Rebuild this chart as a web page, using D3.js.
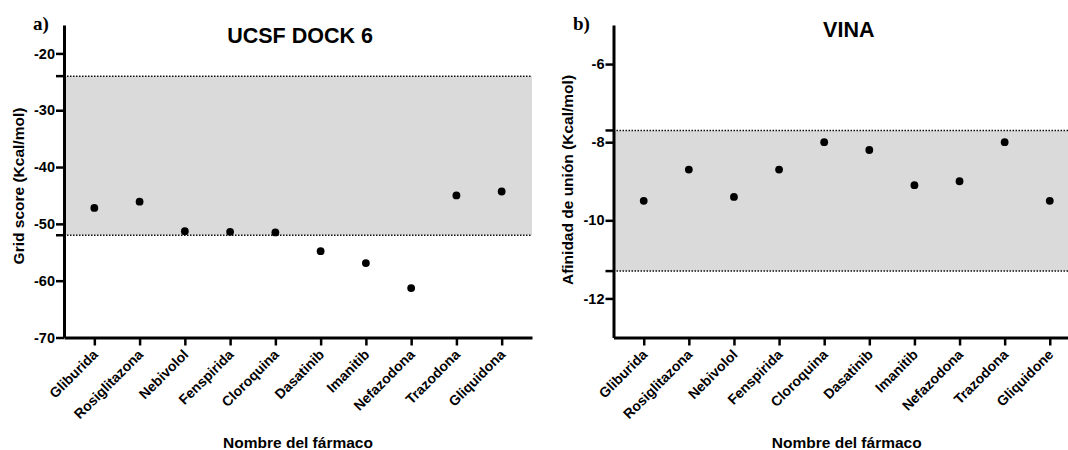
<!DOCTYPE html>
<html>
<head>
<meta charset="utf-8">
<script src="https://cdn.jsdelivr.net/npm/d3@7"></script>
<style>
	body { margin: 0; background: #fff; }
	text { font-family: "Liberation Sans", Arial, sans-serif; font-weight: bold; fill: #000; }
	.panel { font-family: "Liberation Serif", "Times New Roman", serif; }
</style>
</head>
<body>
<div class="svg-container"></div>
<script>
// data
var drugsA = ["Gliburida", "Rosiglitazona", "Nebivolol", "Fenspirida", "Cloroquina",
	"Dasatinib", "Imanitib", "Nefazodona", "Trazodona", "Gliquidona"];
var drugsB = ["Gliburida", "Rosiglitazona", "Nebivolol", "Fenspirida", "Cloroquina",
	"Dasatinib", "Imanitib", "Nefazodona", "Trazodona", "Gliquidone"];
var dockScores = [-47.2, -46.1, -51.3, -51.4, -51.5, -54.8, -56.9, -61.3, -45.0, -44.3];
var vinaScores = [-9.5, -8.7, -9.4, -8.7, -8.0, -8.2, -9.1, -9.0, -8.0, -9.5];
var dockBand = [-52, -24];
var vinaBand = [-11.3, -7.7];
var dockTicks = [-70, -60, -50, -40, -30, -20];
var vinaTicks = [-12, -10, -8, -6];

var pageWidth = 1068,
	pageHeight = 450,
	plotTop = 25,
	plotBottom = 337.5,
	radius = 3.9;

var svg = d3.select(".svg-container")
	.append("svg")
	.attr("width", pageWidth)
	.attr("height", pageHeight);

var panelA = {
	left: 64, right: 532, domain: [-70, -15],
	cats: drugsA, values: dockScores, band: dockBand, ticks: dockTicks,
	title: "UCSF DOCK 6", titleY: 42.7, letter: "a)", letterX: 33,
	yLabel: "Grid score (Kcal/mol)", yLabelX: 24, yLabelY: 186
};
var panelB = {
	left: 613.5, right: 1080, domain: [-13, -5],
	cats: drugsB, values: vinaScores, band: vinaBand, ticks: vinaTicks,
	title: "VINA", titleY: 37.3, letter: "b)", letterX: 573,
	yLabel: "Afinidad de unión (Kcal/mol)", yLabelX: 573, yLabelY: 180
};

drawPanel(panelA);
drawPanel(panelB);

function drawPanel(p) {
	var g = svg.append("g");

	var x = d3.scalePoint().domain(p.cats).range([p.left, p.right]).padding(0.67);
	var y = d3.scaleLinear().domain(p.domain).range([plotBottom, plotTop]);

	// grey band between the two dotted limits
	g.append("rect")
		.attr("x", p.left)
		.attr("y", y(p.band[1]))
		.attr("width", p.right - p.left)
		.attr("height", y(p.band[0]) - y(p.band[1]))
		.attr("fill", "#dadada");

	p.band.forEach(function(v) {
		g.append("line")
			.attr("x1", p.left).attr("x2", p.right)
			.attr("y1", y(v)).attr("y2", y(v))
			.attr("stroke", "#111")
			.attr("stroke-width", 1.5)
			.attr("stroke-dasharray", "1.5,1.5");
		// short mark on the axis
		g.append("line")
			.attr("x1", p.left - 8).attr("x2", p.left)
			.attr("y1", y(v)).attr("y2", y(v))
			.attr("stroke", "#000")
			.attr("stroke-width", 2.5);
	});

	// y axis (plain hyphen for negatives, like the original)
	var yAxis = g.append("g")
		.attr("transform", "translate(" + p.left + ",0)")
		.call(d3.axisLeft(y).tickValues(p.ticks).tickFormat(function(d) { return String(d); })
			.tickSize(8).tickSizeOuter(0).tickPadding(1));
	yAxis.select(".domain").attr("stroke-width", 3);
	yAxis.selectAll(".tick line").attr("stroke-width", 2.5);
	yAxis.selectAll("text").style("font-size", "14.5px");

	// x axis
	var xAxis = g.append("g")
		.attr("transform", "translate(0," + plotBottom + ")")
		.call(d3.axisBottom(x).tickSize(8).tickSizeOuter(0));
	xAxis.select(".domain").attr("stroke-width", 3);
	xAxis.selectAll(".tick line").attr("stroke-width", 2.5);
	xAxis.selectAll("text")
		.style("font-size", "14px")
		.attr("text-anchor", "end")
		.attr("x", 0).attr("y", 0).attr("dy", null)
		.attr("transform", "translate(4,18) rotate(-45)");

	// points
	g.selectAll(".dot")
		.data(p.values)
		.enter()
		.append("circle")
		.attr("cx", function(d, i) { return x(p.cats[i]); })
		.attr("cy", function(d) { return y(d); })
		.attr("r", radius)
		.attr("fill", "#000");

	// titles and labels
	g.append("text")
		.attr("x", (p.left + p.right) / 2 + 2)
		.attr("y", p.titleY)
		.attr("text-anchor", "middle")
		.style("font-size", "21.5px")
		.text(p.title);

	g.append("text")
		.attr("class", "panel")
		.attr("x", p.letterX)
		.attr("y", 30)
		.style("font-size", "19px")
		.text(p.letter);

	g.append("text")
		.attr("transform", "translate(" + p.yLabelX + "," + p.yLabelY + ") rotate(-90)")
		.attr("text-anchor", "middle")
		.style("font-size", "15.5px")
		.text(p.yLabel);

	g.append("text")
		.attr("x", (p.left + p.right) / 2)
		.attr("y", 448)
		.attr("text-anchor", "middle")
		.style("font-size", "15.5px")
		.text("Nombre del fármaco");
}
</script>
</body>
</html>
